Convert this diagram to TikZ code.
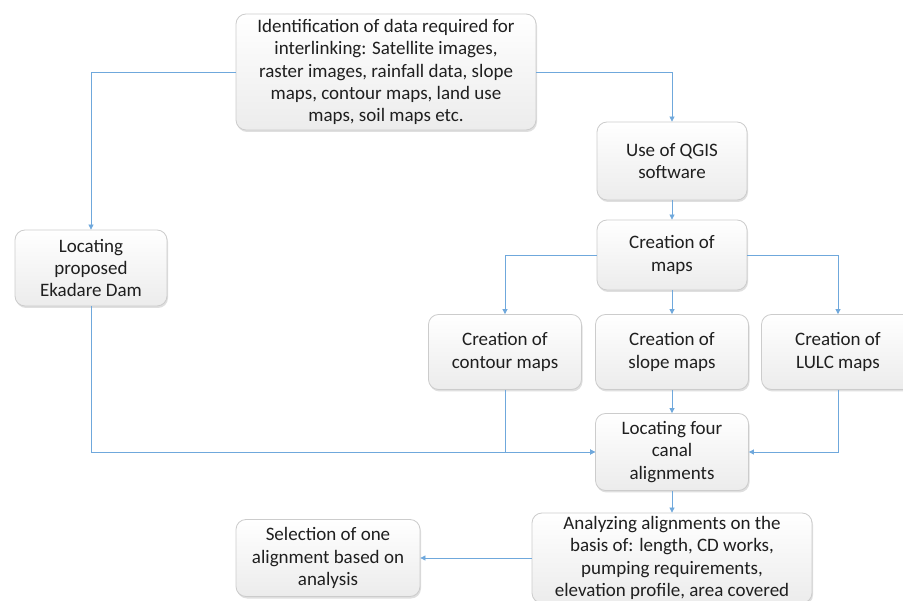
\documentclass[tikz,border=0pt]{standalone}
\usepackage{fontspec}
\setmainfont{Carlito}
\usetikzlibrary{arrows.meta,shadows,shadings}
\definecolor{conncol}{HTML}{6FA8DC}
\tikzset{
  box/.style={rounded corners=10pt, draw=gray!40, line width=0.8pt,
    top color=white, bottom color=gray!15,
    drop shadow={opacity=0.25, shadow xshift=1pt, shadow yshift=-2pt},
    align=center, inner sep=1pt, font=\fontsize{19}{22.3}\selectfont, text=black!88},
  conn/.style={draw=conncol, line width=0.7pt, -{Triangle[length=5pt,width=5pt]}}
}
\begin{document}
\begin{tikzpicture}[x=1pt,y=-1pt]
\fill[white] (0,0) rectangle (903,601);
\useasboundingbox (0,0) rectangle (903,601);
\node[box, minimum width=300pt, minimum height=116pt] (top) at (386,72)
  {Identification of data required for\\interlinking: Satellite images,\\raster images, rainfall data, slope\\maps, contour maps, land use\\maps, soil maps etc.};
\node[box, minimum width=150pt, minimum height=78pt] (qgis) at (672,161) {Use of QGIS\\software};
\node[box, minimum width=150pt, minimum height=70pt] (maps) at (672,255) {Creation of\\maps};
\node[box, minimum width=152pt, minimum height=76pt] (dam) at (91,268) {Locating\\proposed\\Ekadare Dam};
\node[box, minimum width=153pt, minimum height=75pt] (contour) at (505,352) {Creation of\\contour maps};
\node[box, minimum width=153pt, minimum height=75pt] (slope) at (672,352) {Creation of\\slope maps};
\node[box, minimum width=153pt, minimum height=75pt] (lulc) at (838,352) {Creation of\\LULC maps};
\node[box, minimum width=153pt, minimum height=77pt] (four) at (672,452) {Locating four\\canal\\alignments};
\node[box, minimum width=280pt, minimum height=90pt] (anal) at (672,558) {Analyzing alignments on the\\basis of: length, CD works,\\pumping requirements,\\elevation profile, area covered};
\node[box, minimum width=184pt, minimum height=77pt] (sel) at (328,558) {Selection of one\\alignment based on\\analysis};
\draw[conn] (top.west) -| (dam.north);
\draw[conn] (top.east) -| (qgis.north);
\draw[conn] (qgis.south) -- (maps.north);
\draw[conn] (maps.west) -| (contour.north);
\draw[conn] (maps.south) -- (slope.north);
\draw[conn] (maps.east) -| (lulc.north);
\draw[conn] (dam.south) |- (four.west);
\draw[conn] (contour.south) |- (four.west);
\draw[conn] (slope.south) -- (four.north);
\draw[conn] (lulc.south) |- (four.east);
\draw[conn] (four.south) -- (anal.north);
\draw[conn] (anal.west) -- (sel.east);
\end{tikzpicture}
\end{document}
